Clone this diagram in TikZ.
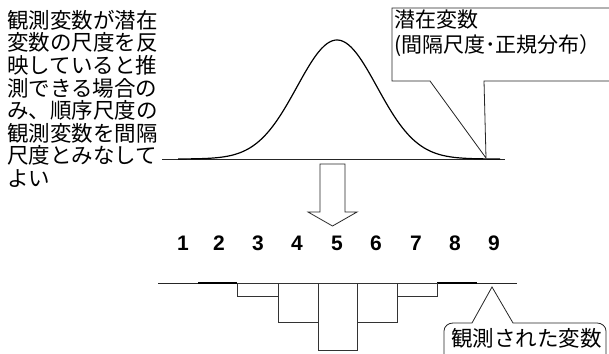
\documentclass[tikz,border=0pt]{standalone}
\usepackage{fontspec}
\newfontfamily\jp{Noto Sans CJK JP}
\newfontfamily\arialfont{Liberation Sans}
\tikzset{
  jptext/.style={inner sep=0pt, align=left, text=black},
  numlabel/.style={font=\arialfont\bfseries\fontsize{21}{21}\selectfont, inner sep=0pt},
  thinline/.style={draw=black!85, line width=0.8pt},
  barline/.style={draw=black!80, line width=0.8pt},
  curveline/.style={draw=black, line width=1.2pt},
}
\begin{document}
\begin{tikzpicture}[x=1pt,y=-1pt]
\clip (0,0) rectangle (609,353);
\fill[white] (0,0) rectangle (609,353);

% left explanatory text
\node[jptext, anchor=north west, font=\jp\fontsize{21.5}{22.6}\selectfont] (lefttext) at (7,10)
  {観測変数が潜在\\変数の尺度を反\\映していると推\\測できる場合の\\み、順序尺度の\\観測変数を間隔\\尺度とみなして\\よい};

% baseline of latent distribution
\coordinate (bl) at (162,159);
\coordinate (br) at (505,159);
\draw[thinline] (bl) -- (br);

% normal curve
\draw[curveline, smooth, samples=120, domain=178:500]
  plot ({\x},{159-119*exp(-((\x-337)/40)^2/2)});

% callout box (latent variable)
\coordinate (tip1) at (486,158);
\draw[thinline, fill=white] (615,8) -- (392,8) -- (392,81) -- (430,81) -- (tip1) -- (484,81) -- (615,81);
\node[jptext, anchor=north west, font=\jp\fontsize{21}{24.5}\selectfont] (boxtext) at (394,10)
  {潜在変数\\(間隔尺度･正規分布）};

% block arrow
\draw[thinline, fill=white] (320,164) -- (345,164) -- (345,212) -- (357,212) -- (332.5,226)
  -- (308,212) -- (320,212) -- cycle;

% category numbers
\foreach \i/\xx in {1/183,2/219,3/258,4/297,5/337,6/376,7/416,8/455,9/494}{
  \node[numlabel] (n\i) at (\xx,243) {\i};
}

% histogram
\draw[thinline] (158,283) -- (517,283);
\draw[draw=black, line width=2pt] (198,283) -- (237,283);
\draw[draw=black, line width=2pt] (437,283) -- (477,283);
\draw[barline] (237,283) rectangle (278,296);
\draw[barline] (278,283) rectangle (318,322);
\draw[barline] (318,283) rectangle (357,350);
\draw[barline] (357,283) rectangle (397,322);
\draw[barline] (397,283) rectangle (437,296);

% callout (observed variable)
\coordinate (tip2) at (492,287);
\draw[thinline, fill=white] (444,360) -- (444,331) to[out=90,in=180] (453,323) -- (472,323)
  -- (tip2) -- (513,323) -- (597,323) to[out=0,in=90] (606,331) -- (606,360);
\node[jptext, anchor=west, font=\jp\fontsize{21.5}{21.5}\selectfont] (obstext) at (451,338) {観測された変数};
\end{tikzpicture}
\end{document}
